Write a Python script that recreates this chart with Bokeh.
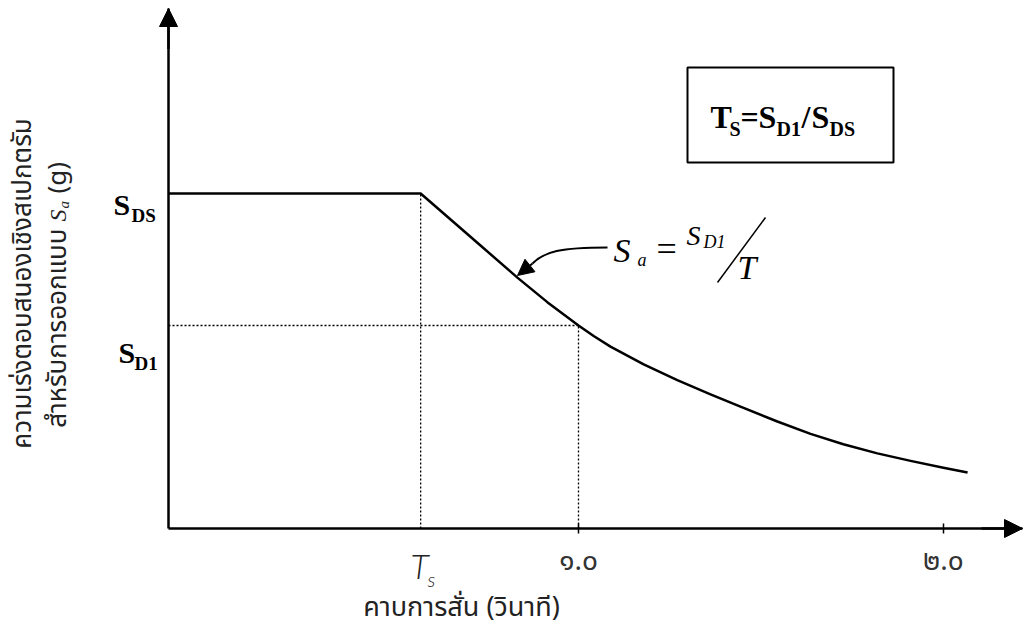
from math import pi

from bokeh.embed import file_html
from bokeh.models import Arrow, BoxAnnotation, FixedTicker, Label, LinearAxis, NormalHead, Range1d
from bokeh.plotting import figure
from bokeh.resources import INLINE

# Schematic design response spectrum (periods in s, accelerations in units of S_D1)
s_ds = 1.65          # short-period plateau level S_DS
s_d1 = 1.0           # level S_D1 reached at T = 1.0 s
t_s = 0.615          # corner period T_s = S_D1 / S_DS

spectrum_period = [0.0, 0.615, 0.761, 0.851, 0.924, 1.0, 1.037, 1.078, 1.159, 1.241,
                   1.322, 1.395, 1.485, 1.566, 1.646, 1.729, 1.810, 1.890, 1.949]
spectrum_accel = [1.65, 1.65, 1.394, 1.236, 1.115, 1.0, 0.948, 0.896, 0.809, 0.731,
                  0.661, 0.600, 0.527, 0.466, 0.415, 0.370, 0.333, 0.299, 0.276]

period_ticks = [1.0, 1.89]
period_tick_labels = ["๑.๐", "๒.๐"]

x_title = "คาบการสั่น (วินาที)"
y_title_1 = "ความเร่งตอบสนองเชิงสเปกตรัม"
y_title_2 = "สำหรับการออกแบบ"

# canvas layout: origin pixel and pixels per data unit
W, H = 1025, 628
X0, Y0 = 168, 528
PX_X, PX_Y = 410, 203


def at(cx, cy):
    """Canvas pixel -> data coordinates (for annotation placement)."""
    return (cx - X0) / PX_X, (Y0 - cy) / PX_Y


THAI = "Noto Sans Thai, Noto Sans Thai UI, Loma, Garuda, Tahoma, Noto Sans, sans-serif"
SERIF = "Liberation Serif"

left, top = at(0, 0)
right, bottom = at(W, H)
x_end, y_end = at(1022, 8)

p = figure(width=W, height=H, output_backend="svg", toolbar_location=None,
           x_range=Range1d(left, right), y_range=Range1d(bottom, top),
           x_axis_location=None, y_axis_location=None,
           min_border=0)
p.outline_line_color = None
p.grid.visible = False
p.background_fill_color = "white"
p.border_fill_color = "white"

# axes through the origin
xa = LinearAxis(fixed_location=0, bounds=(0, x_end))
xa.ticker = FixedTicker(ticks=period_ticks)
xa.major_label_overrides = dict(zip(period_ticks, period_tick_labels))
xa.minor_tick_line_color = None
xa.major_tick_in = 5
xa.major_tick_out = 5
xa.major_tick_line_width = 1.5
xa.axis_line_width = 2.5
xa.major_label_standoff = 6
xa.major_label_text_font = THAI
xa.major_label_text_font_size = "28px"
xa.major_label_text_color = "#333333"
p.add_layout(xa, "below")

ya = LinearAxis(fixed_location=0, bounds=(0, y_end))
ya.ticker = FixedTicker(ticks=[])
ya.minor_tick_line_color = None
ya.major_tick_line_color = None
ya.axis_line_width = 2.5
p.add_layout(ya, "left")

# axis arrow heads
for xs, ys, xe, ye in [(0, y_end - 0.2, 0, y_end), (x_end - 0.1, 0, x_end, 0)]:
    p.add_layout(Arrow(end=NormalHead(size=18, fill_color="black", line_color="black"),
                       x_start=xs, y_start=ys, x_end=xe, y_end=ye,
                       line_width=2.5, line_color="black"))

# guide lines at T_s, T = 1.0 and S_D1
dots = dict(line_color="black", line_width=1.3, line_dash="2 2")
p.line([t_s, t_s], [0, s_ds], **dots)
p.line([0, 1.0], [s_d1, s_d1], **dots)
p.line([1.0, 1.0], [0, s_d1], **dots)

# spectrum
p.line(spectrum_period, spectrum_accel, line_color="black", line_width=2.5,
       line_join="round")


def label(cx, cy, text, size, font=SERIF, style="normal", angle=0.0,
          align="left", baseline="alphabetic", color="black"):
    if baseline == "alphabetic":
        cy -= 0.37 * size     # lift so that (cx, cy) is the glyph baseline
    x, y = at(cx, cy)
    p.add_layout(Label(x=x, y=y, text=text, text_font=font, text_font_size=f"{size}px",
                       text_font_style=style, angle=angle, text_align=align,
                       text_baseline=baseline, text_color=color))


# level labels on the acceleration axis
label(113, 215, "S", 30, style="bold")
label(131, 222, "DS", 19, style="bold")
label(118, 363, "S", 30, style="bold")
label(134, 370, "D1", 19, style="bold")

# T_s under the period axis
label(410, 578, "T", 34, font="Lato Light, Lato", style="italic", color="#222222")
label(427, 586, "s", 20, font="Lato Light, Lato", style="italic", color="#222222")

# axis titles
label(461, 607, x_title, 27, font=THAI, align="center", baseline="middle", color="#222222")
label(22, 283, y_title_1, 26, font=THAI, angle=pi / 2, align="center",
      baseline="middle", color="#222222")
label(57, 228, y_title_2, 26, font=THAI, angle=pi / 2, align="right",
      baseline="middle", color="#222222")
label(57, 221, "S", 24, font=SERIF, style="italic", angle=pi / 2, baseline="middle",
      color="#222222")
label(63, 208, "a", 15, font=SERIF, style="italic", angle=pi / 2, baseline="middle",
      color="#222222")
label(57, 193, "(g)", 26, font=THAI, angle=pi / 2, baseline="middle", color="#222222")

# T_s definition box
bl, bt = at(687, 67)
br, bb = at(893, 162)
p.add_layout(BoxAnnotation(left=bl, right=br, top=bt, bottom=bb, fill_alpha=0,
                           line_color="black", line_alpha=1, line_width=2))
label(710, 128, "T", 32, style="bold")
label(729, 136, "S", 20, style="bold")
label(740, 128, "=", 32, style="bold")
label(758, 128, "S", 32, style="bold")
label(776, 136, "D1", 20, style="bold")
label(801, 128, "/", 32, style="bold")
label(811, 128, "S", 32, style="bold")
label(829, 136, "DS", 20, style="bold")

# descending-branch formula with a curved pointer
label(613, 263, "S", 34, style="italic")
label(637, 266, "a", 18, style="italic")
label(656, 262, "=", 36)
label(686, 245, "S", 28, style="italic")
label(703, 248, "D1", 18, style="italic")
label(737, 280, "T", 34, style="italic")
sx0, sy0 = at(717, 282)
sx1, sy1 = at(765, 217)
p.line([sx0, sx1], [sy0, sy1], line_color="black", line_width=1.5)

bx0, by0 = at(607, 247)
bcx, bcy = at(560, 247)
bx1, by1 = at(532, 263)
p.bezier(x0=[bx0], y0=[by0], x1=[bx1], y1=[by1], cx0=[bcx], cy0=[bcy],
         cx1=[bcx - 0.04], cy1=[bcy - 0.02], line_color="black", line_width=2)
tx, ty = at(517, 275)
p.add_layout(Arrow(end=NormalHead(size=16, fill_color="black", line_color="black"),
                   x_start=bx1, y_start=by1, x_end=tx, y_end=ty,
                   line_width=2, line_color="black"))

open("out.html", "w").write(file_html(p, INLINE))
